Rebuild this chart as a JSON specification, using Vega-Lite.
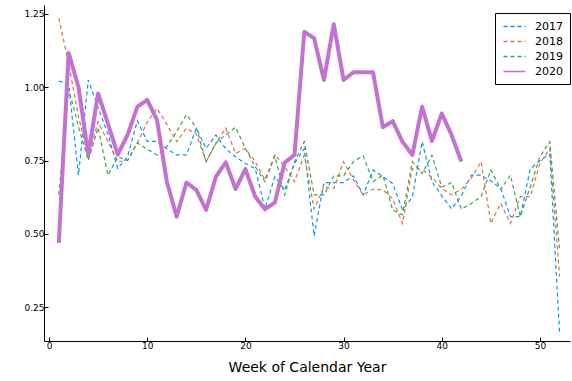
{
  "$schema": "https://vega.github.io/schema/vega-lite/v6.json",
  "width": 526,
  "height": 336,
  "autosize": {"type": "none"},
  "padding": {"left": 44, "top": 5, "right": 2, "bottom": 40},
  "background": "white",
  "config": {
    "view": {"stroke": null},
    "font": "DejaVu Sans",
    "axis": {"grid": false, "domainColor": "#000000", "tickColor": "#000000", "labelColor": "#000000", "titleColor": "#000000", "labelFont": "DejaVu Sans", "titleFont": "DejaVu Sans", "labelFontSize": 9, "tickSize": -4, "domainWidth": 1, "tickWidth": 1},
    "legend": {"symbolStrokeWidth": 1.3}
  },
  "data": {"values": [
    {"week":1,"year":"2017","value":1.02},{"week":2,"year":"2017","value":1.01},{"week":3,"year":"2017","value":0.70},{"week":4,"year":"2017","value":1.024},{"week":5,"year":"2017","value":0.93},{"week":6,"year":"2017","value":0.84},{"week":7,"year":"2017","value":0.723},{"week":8,"year":"2017","value":0.763},{"week":9,"year":"2017","value":0.885},{"week":10,"year":"2017","value":0.815},{"week":11,"year":"2017","value":0.815},{"week":12,"year":"2017","value":0.79},{"week":13,"year":"2017","value":0.769},{"week":14,"year":"2017","value":0.769},{"week":15,"year":"2017","value":0.86},{"week":16,"year":"2017","value":0.791},{"week":17,"year":"2017","value":0.837},{"week":18,"year":"2017","value":0.79},{"week":19,"year":"2017","value":0.763},{"week":20,"year":"2017","value":0.74},{"week":21,"year":"2017","value":0.723},{"week":22,"year":"2017","value":0.585},{"week":23,"year":"2017","value":0.695},{"week":24,"year":"2017","value":0.65},{"week":25,"year":"2017","value":0.74},{"week":26,"year":"2017","value":0.79},{"week":27,"year":"2017","value":0.493},{"week":28,"year":"2017","value":0.675},{"week":29,"year":"2017","value":0.675},{"week":30,"year":"2017","value":0.675},{"week":31,"year":"2017","value":0.698},{"week":32,"year":"2017","value":0.633},{"week":33,"year":"2017","value":0.718},{"week":34,"year":"2017","value":0.695},{"week":35,"year":"2017","value":0.672},{"week":36,"year":"2017","value":0.582},{"week":37,"year":"2017","value":0.625},{"week":38,"year":"2017","value":0.814},{"week":39,"year":"2017","value":0.678},{"week":40,"year":"2017","value":0.63},{"week":41,"year":"2017","value":0.585},{"week":42,"year":"2017","value":0.63},{"week":43,"year":"2017","value":0.70},{"week":44,"year":"2017","value":0.70},{"week":45,"year":"2017","value":0.68},{"week":46,"year":"2017","value":0.655},{"week":47,"year":"2017","value":0.559},{"week":48,"year":"2017","value":0.559},{"week":49,"year":"2017","value":0.72},{"week":50,"year":"2017","value":0.75},{"week":51,"year":"2017","value":0.772},{"week":52,"year":"2017","value":0.163},
    {"week":1,"year":"2018","value":1.234},{"week":2,"year":"2018","value":1.08},{"week":3,"year":"2018","value":0.90},{"week":4,"year":"2018","value":0.763},{"week":5,"year":"2018","value":0.882},{"week":6,"year":"2018","value":0.814},{"week":7,"year":"2018","value":0.746},{"week":8,"year":"2018","value":0.75},{"week":9,"year":"2018","value":0.81},{"week":10,"year":"2018","value":0.88},{"week":11,"year":"2018","value":0.927},{"week":12,"year":"2018","value":0.873},{"week":13,"year":"2018","value":0.814},{"week":14,"year":"2018","value":0.86},{"week":15,"year":"2018","value":0.84},{"week":16,"year":"2018","value":0.746},{"week":17,"year":"2018","value":0.808},{"week":18,"year":"2018","value":0.86},{"week":19,"year":"2018","value":0.774},{"week":20,"year":"2018","value":0.791},{"week":21,"year":"2018","value":0.746},{"week":22,"year":"2018","value":0.684},{"week":23,"year":"2018","value":0.769},{"week":24,"year":"2018","value":0.729},{"week":25,"year":"2018","value":0.678},{"week":26,"year":"2018","value":0.769},{"week":27,"year":"2018","value":0.585},{"week":28,"year":"2018","value":0.66},{"week":29,"year":"2018","value":0.655},{"week":30,"year":"2018","value":0.746},{"week":31,"year":"2018","value":0.684},{"week":32,"year":"2018","value":0.633},{"week":33,"year":"2018","value":0.652},{"week":34,"year":"2018","value":0.65},{"week":35,"year":"2018","value":0.62},{"week":36,"year":"2018","value":0.536},{"week":37,"year":"2018","value":0.722},{"week":38,"year":"2018","value":0.72},{"week":39,"year":"2018","value":0.692},{"week":40,"year":"2018","value":0.656},{"week":41,"year":"2018","value":0.633},{"week":42,"year":"2018","value":0.652},{"week":43,"year":"2018","value":0.69},{"week":44,"year":"2018","value":0.746},{"week":45,"year":"2018","value":0.536},{"week":46,"year":"2018","value":0.604},{"week":47,"year":"2018","value":0.536},{"week":48,"year":"2018","value":0.627},{"week":49,"year":"2018","value":0.627},{"week":50,"year":"2018","value":0.74},{"week":51,"year":"2018","value":0.79},{"week":52,"year":"2018","value":0.355},
    {"week":1,"year":"2019","value":0.633},{"week":2,"year":"2019","value":0.995},{"week":3,"year":"2019","value":0.865},{"week":4,"year":"2019","value":0.75},{"week":5,"year":"2019","value":0.862},{"week":6,"year":"2019","value":0.70},{"week":7,"year":"2019","value":0.763},{"week":8,"year":"2019","value":0.75},{"week":9,"year":"2019","value":0.81},{"week":10,"year":"2019","value":0.788},{"week":11,"year":"2019","value":0.769},{"week":12,"year":"2019","value":0.797},{"week":13,"year":"2019","value":0.848},{"week":14,"year":"2019","value":0.906},{"week":15,"year":"2019","value":0.863},{"week":16,"year":"2019","value":0.746},{"week":17,"year":"2019","value":0.81},{"week":18,"year":"2019","value":0.837},{"week":19,"year":"2019","value":0.863},{"week":20,"year":"2019","value":0.791},{"week":21,"year":"2019","value":0.729},{"week":22,"year":"2019","value":0.678},{"week":23,"year":"2019","value":0.766},{"week":24,"year":"2019","value":0.633},{"week":25,"year":"2019","value":0.746},{"week":26,"year":"2019","value":0.814},{"week":27,"year":"2019","value":0.633},{"week":28,"year":"2019","value":0.633},{"week":29,"year":"2019","value":0.698},{"week":30,"year":"2019","value":0.698},{"week":31,"year":"2019","value":0.746},{"week":32,"year":"2019","value":0.766},{"week":33,"year":"2019","value":0.678},{"week":34,"year":"2019","value":0.70},{"week":35,"year":"2019","value":0.582},{"week":36,"year":"2019","value":0.565},{"week":37,"year":"2019","value":0.746},{"week":38,"year":"2019","value":0.706},{"week":39,"year":"2019","value":0.768},{"week":40,"year":"2019","value":0.66},{"week":41,"year":"2019","value":0.675},{"week":42,"year":"2019","value":0.584},{"week":43,"year":"2019","value":0.604},{"week":44,"year":"2019","value":0.627},{"week":45,"year":"2019","value":0.718},{"week":46,"year":"2019","value":0.652},{"week":47,"year":"2019","value":0.70},{"week":48,"year":"2019","value":0.559},{"week":49,"year":"2019","value":0.66},{"week":50,"year":"2019","value":0.763},{"week":51,"year":"2019","value":0.814},{"week":52,"year":"2019","value":0.443},
    {"week":1,"year":"2020","value":0.47},{"week":2,"year":"2020","value":1.116},{"week":3,"year":"2020","value":1.0},{"week":4,"year":"2020","value":0.77},{"week":5,"year":"2020","value":0.978},{"week":6,"year":"2020","value":0.876},{"week":7,"year":"2020","value":0.77},{"week":8,"year":"2020","value":0.837},{"week":9,"year":"2020","value":0.933},{"week":10,"year":"2020","value":0.956},{"week":11,"year":"2020","value":0.888},{"week":12,"year":"2020","value":0.678},{"week":13,"year":"2020","value":0.559},{"week":14,"year":"2020","value":0.675},{"week":15,"year":"2020","value":0.65},{"week":16,"year":"2020","value":0.582},{"week":17,"year":"2020","value":0.695},{"week":18,"year":"2020","value":0.744},{"week":19,"year":"2020","value":0.653},{"week":20,"year":"2020","value":0.721},{"week":21,"year":"2020","value":0.627},{"week":22,"year":"2020","value":0.584},{"week":23,"year":"2020","value":0.607},{"week":24,"year":"2020","value":0.743},{"week":25,"year":"2020","value":0.769},{"week":26,"year":"2020","value":1.188},{"week":27,"year":"2020","value":1.166},{"week":28,"year":"2020","value":1.024},{"week":29,"year":"2020","value":1.214},{"week":30,"year":"2020","value":1.024},{"week":31,"year":"2020","value":1.05},{"week":32,"year":"2020","value":1.05},{"week":33,"year":"2020","value":1.05},{"week":34,"year":"2020","value":0.863},{"week":35,"year":"2020","value":0.884},{"week":36,"year":"2020","value":0.814},{"week":37,"year":"2020","value":0.769},{"week":38,"year":"2020","value":0.933},{"week":39,"year":"2020","value":0.816},{"week":40,"year":"2020","value":0.91},{"week":41,"year":"2020","value":0.837},{"week":42,"year":"2020","value":0.746}
  ]},
  "encoding": {
    "x": {"field": "week", "type": "quantitative",
      "scale": {"domain": [-0.51, 53.06], "nice": false, "zero": false},
      "axis": {"values": [0,10,20,30,40,50], "title": "Week of Calendar Year", "titleFontSize": 14, "titleFontWeight": "normal", "titlePadding": 10, "labelPadding": 4}},
    "y": {"field": "value", "type": "quantitative",
      "scale": {"domain": [0.136, 1.279], "nice": false, "zero": false},
      "axis": {"values": [0.25,0.5,0.75,1.0,1.25], "format": ".2f", "title": null, "labelPadding": 4}},
    "color": {"field": "year", "type": "nominal",
      "scale": {"domain": ["2017","2018","2019","2020"], "range": ["#009AFA","#E36F47","#3EA44E","#C371D2"]},
      "legend": {"title": null, "orient": "none", "legendX": 451, "legendY": 8, "strokeColor": "#000000", "fillColor": "#ffffff", "padding": 7, "symbolType": "M-2,0H2", "symbolSize": 121, "symbolStrokeWidth": 1.3, "symbolOffset": 6, "labelOffset": 14, "labelFontSize": 11, "labelFont": "DejaVu Sans", "labelColor": "#000000", "rowPadding": 3,
        "encode": {"symbols": {"enter": {"strokeWidth": {"value": 1.3}}, "update": {"strokeWidth": {"value": 1.3}}}}}},
    "strokeDash": {"field": "year", "type": "nominal",
      "scale": {"domain": ["2017","2018","2019","2020"], "range": [[4,3],[4,3],[4,3],[1,0]]}},
    "order": {"field": "week", "type": "quantitative"}
  },
  "layer": [
    {"transform": [{"filter": "datum.year !== '2020'"}],
     "mark": {"type": "line", "clip": true, "strokeWidth": 1.2}},
    {"transform": [{"filter": "datum.year === '2020'"}],
     "mark": {"type": "line", "clip": true, "strokeJoin": "round"},
     "encoding": {"strokeWidth": {"value": 4}}}
  ]
}
